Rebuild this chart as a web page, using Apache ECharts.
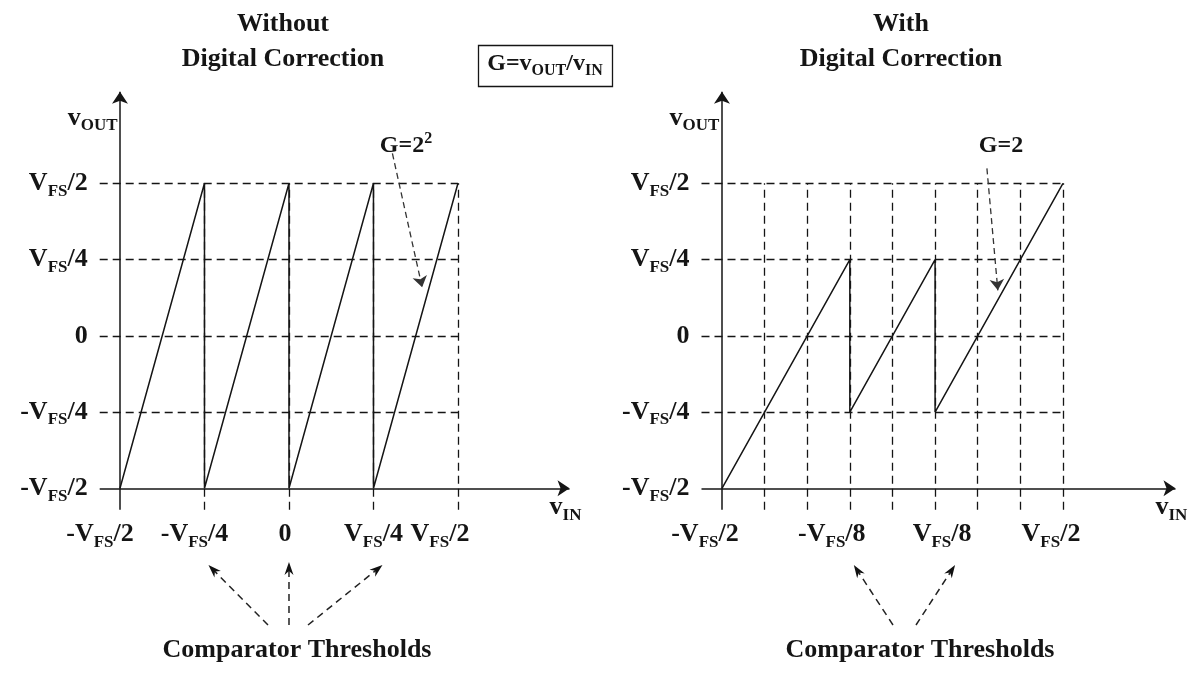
<!DOCTYPE html>
<html>
<head>
<meta charset="utf-8">
<script src="https://cdn.jsdelivr.net/npm/echarts@6/dist/echarts.min.js"></script>
<style>
  html, body { margin: 0; padding: 0; background: #ffffff; }
  #chart { width: 1196px; height: 680px; }
</style>
</head>
<body>
<div id="chart"></div>
<script>
// Residue transfer characteristics of a pipelined ADC stage (values in units of V_FS)

// Without digital correction: gain 2^2, comparator thresholds at -V_FS/4, 0, V_FS/4
const leftVin  = [-0.5, -0.25, -0.25, 0,   0,    0.25, 0.25, 0.5];
const leftVout = [-0.5,  0.5,  -0.5,  0.5, -0.5, 0.5,  -0.5, 0.5];

// With digital correction: gain 2, comparator thresholds at -V_FS/8, V_FS/8
const rightVin  = [-0.5, -0.125, -0.125, 0.125, 0.125, 0.5];
const rightVout = [-0.5,  0.25,  -0.25,  0.25,  -0.25, 0.5];

// Tick values and labels
const yTicks = [-0.5, -0.25, 0, 0.25, 0.5];
const yTickLabels = ['-V_FS/2', '-V_FS/4', '0', 'V_FS/4', 'V_FS/2'];
const leftXTicks = [-0.5, -0.25, 0, 0.25, 0.5];
const leftXTickLabels = ['-V_FS/2', '-V_FS/4', '0', 'V_FS/4', 'V_FS/2'];
const rightXTicks = [-0.5, -0.125, 0.125, 0.5];
const rightXTickLabels = ['-V_FS/2', '-V_FS/8', 'V_FS/8', 'V_FS/2'];

// Dashed reference levels
const hLevels = [-0.25, 0, 0.25, 0.5];
const leftVLevels = [-0.25, 0, 0.25, 0.5];
const rightVLevels = [-0.375, -0.25, -0.125, 0, 0.125, 0.25, 0.375, 0.5];

// Comparator thresholds pointed at below each panel
const leftComparators = [-0.25, 0, 0.25];
const rightComparators = [-0.125, 0.125];

// ---------------------------------------------------------------- layout
const X_MIN = -0.56, X_MAX = 0.83, Y_MIN = -0.57, Y_MAX = 0.8;
const GRID_TOP = 91.8, GRID_H = (Y_MAX - Y_MIN) * 305;
const FONT = '"Liberation Serif", "Times New Roman", serif';
const INK = '#151515';

// horizontal nudges (px) of the x tick labels
const leftXLabelShift = [-20, -10, -4, 0, -18];
const rightXLabelShift = [-17, -18, 7, -12];

const gapStyles = {};
const baseRich = {
  m: { fontFamily: FONT, fontWeight: 'bold', fontSize: 26, color: INK },
  s: { fontFamily: FONT, fontWeight: 'bold', fontSize: 17, color: INK, padding: [16, 0, 0, 0] },
  p: { fontFamily: FONT, fontWeight: 'bold', fontSize: 17, color: INK, padding: [0, 0, 16, 0] }
};

// "-V_FS/2" -> rich text with FS as a subscript
function toRich(text) {
  const parts = [];
  const re = /_([A-Za-z]+)/g;
  let last = 0, m;
  while ((m = re.exec(text))) {
    if (m.index > last) parts.push('{m|' + text.slice(last, m.index) + '}');
    parts.push('{s|' + m[1] + '}');
    last = re.lastIndex;
  }
  if (last < text.length) parts.push('{m|' + text.slice(last) + '}');
  return parts.join('');
}

// x labels without a subscript keep the same line box as the others
function xRich(text) {
  const r = toRich(text);
  return text.indexOf('_') < 0 ? r + '{s|}' : r;
}

function shifted(str, d) {
  if (!d) return str;
  const w = Math.round(Math.abs(d) * 2);
  const key = 'gap' + w;
  gapStyles[key] = { width: w, fontSize: 2 };
  return d > 0 ? '{' + key + '| }' + str : str + '{' + key + '| }';
}

function nearest(arr, v) {
  let best = 0;
  arr.forEach((a, i) => { if (Math.abs(a - v) < Math.abs(arr[best] - v)) best = i; });
  return best;
}

// pre-build all tick label strings so the gap styles exist
const leftXLabelText = leftXTickLabels.map((t, i) => shifted(xRich(t), leftXLabelShift[i]));
const rightXLabelText = rightXTickLabels.map((t, i) => shifted(xRich(t), rightXLabelShift[i]));
const rich = Object.assign({}, baseRich, gapStyles);

const pairs = (xs, ys) => xs.map((x, i) => [x, ys[i]]);

const dash = { type: [8, 5], width: 1.3, color: INK };
const solid = { type: 'solid', width: 1.5, color: INK };
const annot = { type: [6, 4], width: 1.3, color: '#333' };

function seg(x1, y1, x2, y2, style, arrowSize) {
  return [
    { coord: [x1, y1], symbol: 'none', lineStyle: style },
    { coord: [x2, y2], symbol: arrowSize ? 'arrow' : 'none', symbolSize: arrowSize || 0 }
  ];
}

function frameLines(vLevels) {
  const lines = [];
  hLevels.forEach(y => lines.push(seg(X_MIN, y, 0.5, y, dash)));
  vLevels.forEach(x => lines.push(seg(x, Y_MIN, x, 0.5, dash)));
  lines.push(seg(-0.5, Y_MIN, -0.5, Y_MAX, solid, 12));
  lines.push(seg(X_MIN, -0.5, X_MAX, -0.5, solid, 12));
  return lines;
}

function markLineOf(data) {
  return {
    silent: true, animation: false, symbol: ['none', 'none'],
    label: { show: false }, emphasis: { disabled: true },
    data: data
  };
}

function xAxisOf(gridIndex, ticks, texts) {
  return {
    gridIndex: gridIndex, type: 'value', min: X_MIN, max: X_MAX, position: 'bottom',
    axisLine: { show: false, onZero: false }, axisTick: { show: false }, splitLine: { show: false },
    axisLabel: {
      customValues: ticks, margin: 8, rich: rich,
      formatter: v => texts[nearest(ticks, v)]
    },
    name: '{m|v}{s|IN}', nameLocation: 'end', nameGap: -20,
    nameTextStyle: { rich: rich, align: 'left', verticalAlign: 'middle', padding: [0, 0, 4, 0] }
  };
}

function yAxisOf(gridIndex) {
  return {
    gridIndex: gridIndex, type: 'value', min: Y_MIN, max: Y_MAX, position: 'left',
    axisLine: { show: false, onZero: false }, axisTick: { show: false }, splitLine: { show: false },
    axisLabel: {
      customValues: yTicks, margin: 12, rich: rich, align: 'right',
      formatter: v => toRich(yTickLabels[nearest(yTicks, v)])
    },
    name: '{m|v}{s|OUT}', nameLocation: 'end', nameGap: -26,
    nameTextStyle: { rich: rich, align: 'center', verticalAlign: 'middle', padding: [0, 14, 0, 0] }
  };
}

const chart = echarts.init(document.getElementById('chart'), null, { renderer: 'canvas' });

const option = {
  animation: false,
  backgroundColor: '#ffffff',
  grid: [
    { left: 99.7, top: GRID_TOP, width: (X_MAX - X_MIN) * 338, height: GRID_H },
    { left: 701.5, top: GRID_TOP, width: (X_MAX - X_MIN) * 341, height: GRID_H }
  ],
  xAxis: [xAxisOf(0, leftXTicks, leftXLabelText), xAxisOf(1, rightXTicks, rightXLabelText)],
  yAxis: [yAxisOf(0), yAxisOf(1)],
  series: [
    {
      type: 'line', xAxisIndex: 0, yAxisIndex: 0, data: [], z: 1,
      markLine: markLineOf(frameLines(leftVLevels).concat([seg(0.306, 0.598, 0.394, 0.159, annot, 11)]))
    },
    {
      type: 'line', xAxisIndex: 1, yAxisIndex: 1, data: [], z: 1,
      markLine: markLineOf(frameLines(rightVLevels).concat([seg(0.277, 0.549, 0.309, 0.149, annot, 11)]))
    },
    {
      name: 'G=2^2', type: 'line', xAxisIndex: 0, yAxisIndex: 0, z: 3,
      data: pairs(leftVin, leftVout), symbol: 'none', silent: true,
      lineStyle: { color: INK, width: 1.5 }
    },
    {
      name: 'G=2', type: 'line', xAxisIndex: 1, yAxisIndex: 1, z: 3,
      data: pairs(rightVin, rightVout), symbol: 'none', silent: true,
      lineStyle: { color: INK, width: 1.5 }
    }
  ]
};
chart.setOption(option);

// ---------------------------------------------------------------- annotations
function textEl(x, y, text, size) {
  const r = {
    m: { fontFamily: FONT, fontWeight: 'bold', fontSize: size, fill: INK },
    s: { fontFamily: FONT, fontWeight: 'bold', fontSize: Math.round(size * 0.66), fill: INK, padding: [14, 0, 0, 0] },
    p: { fontFamily: FONT, fontWeight: 'bold', fontSize: Math.round(size * 0.66), fill: INK, padding: [0, 0, 14, 0] }
  };
  return {
    type: 'text', x: x, y: y, silent: true, z: 10,
    style: { text: text, rich: r, align: 'center', verticalAlign: 'middle', fill: INK,
             font: 'bold ' + size + 'px ' + FONT }
  };
}

function arrowEls(x1, y1, x2, y2) {
  const dx = x2 - x1, dy = y2 - y1, len = Math.hypot(dx, dy);
  const ux = dx / len, uy = dy / len, nx = -uy, ny = ux;
  const L = 13, W = 9;
  return [
    { type: 'line', silent: true, z: 10,
      shape: { x1: x1, y1: y1, x2: x2 - ux * L * 0.6, y2: y2 - uy * L * 0.6 },
      style: { stroke: '#222', lineWidth: 1.5, lineDash: [7, 5] } },
    { type: 'polygon', silent: true, z: 10,
      shape: { points: [
        [x2, y2],
        [x2 - ux * L + nx * W / 2, y2 - uy * L + ny * W / 2],
        [x2 - ux * L * 0.7, y2 - uy * L * 0.7],
        [x2 - ux * L - nx * W / 2, y2 - uy * L - ny * W / 2]
      ] },
      style: { fill: '#111' } }
  ];
}

const leftTipDx = [4, 0, 9];
const leftBaseX = [268, 289, 308];
const rightTipDx = [4, 20];
const rightBaseX = [893, 916];

const graphic = [
  textEl(283, 24, 'Without', 26),
  textEl(283, 59, 'Digital Correction', 26),
  textEl(901, 24, 'With', 26),
  textEl(901, 59, 'Digital Correction', 26),
  { type: 'rect', silent: true, z: 10, shape: { x: 478.5, y: 45.5, width: 134, height: 41 },
    style: { fill: 'none', stroke: INK, lineWidth: 1.3 } },
  textEl(545, 64, '{m|G=v}{s|OUT}{m|/v}{s|IN}', 24),
  textEl(406, 146, '{m|G=2}{p|2}', 24),
  textEl(1001, 146, '{m|G=2}', 24),
  textEl(297, 650, 'Comparator Thresholds', 26),
  textEl(920, 650, 'Comparator Thresholds', 26)
];

leftComparators.forEach((v, i) => {
  const tx = chart.convertToPixel({ xAxisIndex: 0 }, v) + leftTipDx[i];
  graphic.push(...arrowEls(leftBaseX[i], 625, tx, i === 1 ? 562 : 565));
});
rightComparators.forEach((v, i) => {
  const tx = chart.convertToPixel({ xAxisIndex: 1 }, v) + rightTipDx[i];
  graphic.push(...arrowEls(rightBaseX[i], 625, tx, 565));
});

chart.setOption({ graphic: graphic });
</script>
</body>
</html>
